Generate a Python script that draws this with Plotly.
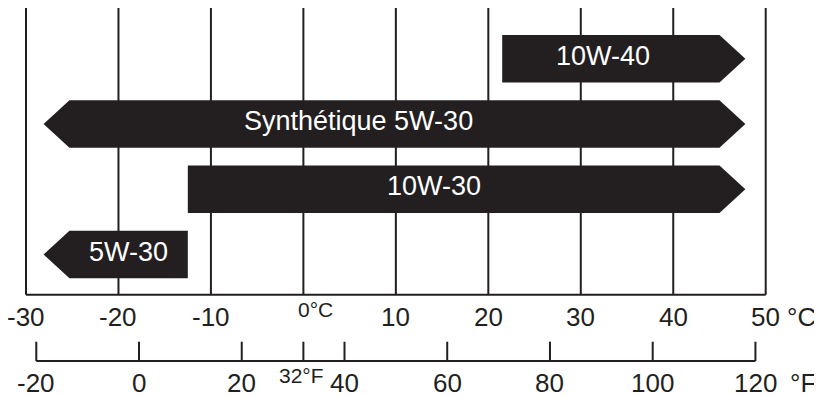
import plotly.graph_objects as go

# ---- data ----
GRADES = ["10W-40", "Synthétique 5W-30", "10W-30", "5W-30"]
LOW_C = [21.5, -25.3, -12.5, -25.3]
HIGH_C = [45.0, 45.0, 45.0, -12.5]
ARROW_LEFT = [False, True, False, True]
ARROW_RIGHT = [True, True, True, False]

C_TICKS = [-30, -20, -10, 0, 10, 20, 30, 40, 50]
C_LABELS = ["-30", "-20", "-10", "0°C", "10", "20", "30", "40", "50"]
F_TICKS = [-20, 0, 20, 32, 40, 60, 80, 100, 120]
F_LABELS = ["-20", "0", "20", "32°F", "40", "60", "80", "100", "120"]

# ---- style / layout constants ----
INK = "#231f20"
FONT = "Liberation Sans, Arial, Helvetica, sans-serif"
HEAD = 2.8          # arrow head length in °C units
HALF_H = 0.364      # half bar height in row units
LABEL_X = [32.4, 5.94, 14.15, -18.94]   # text centres inside the arrows
GRID_TOP = -0.807
C_AXIS_Y = 3.616
F_AXIS_Y = 4.632
F_TICK_TOP = 4.336
C_LABEL_Y = 3.950
F_LABEL_Y = 4.973
BIG = 26
SMALL = 21
INNER = 27


def f_to_c(f):
    return (f - 32) * 5.0 / 9.0


fig = go.Figure()

# arrows
for i, (name, lo, hi, al, ar) in enumerate(zip(GRADES, LOW_C, HIGH_C, ARROW_LEFT, ARROW_RIGHT)):
    xs = [lo, hi]
    ys = [i - HALF_H, i - HALF_H]
    if ar:
        xs.append(hi + HEAD)
        ys.append(i)
    xs += [hi, lo]
    ys += [i + HALF_H, i + HALF_H]
    if al:
        xs.append(lo - HEAD)
        ys.append(i)
    xs.append(lo)
    ys.append(i - HALF_H)
    fig.add_trace(go.Scatter(x=xs, y=ys, fill="toself", mode="lines",
                             fillcolor=INK, line=dict(width=0, color=INK),
                             hoverinfo="skip", showlegend=False))
    fig.add_annotation(x=LABEL_X[i], y=i, text=name, showarrow=False,
                       xanchor="center", yanchor="middle", yshift=3,
                       font=dict(family=FONT, size=INNER, color="white"))

# gridlines & celsius axis
for c in C_TICKS:
    fig.add_shape(type="line", x0=c, x1=c, y0=GRID_TOP, y1=C_AXIS_Y,
                  line=dict(color=INK, width=2), layer="below")
fig.add_shape(type="line", x0=C_TICKS[0], x1=C_TICKS[-1], y0=C_AXIS_Y, y1=C_AXIS_Y,
              line=dict(color=INK, width=2), layer="below")

for c, lab in zip(C_TICKS, C_LABELS):
    if lab == "0°C":
        fig.add_annotation(x=c, y=C_LABEL_Y, text=lab, showarrow=False,
                           xanchor="left", xshift=-7, yanchor="middle", yshift=7,
                           font=dict(family=FONT, size=SMALL, color=INK))
    else:
        fig.add_annotation(x=c, y=C_LABEL_Y, text=lab, showarrow=False,
                           xanchor="center", yanchor="middle",
                           font=dict(family=FONT, size=BIG, color=INK))
fig.add_annotation(x=C_TICKS[-1], y=C_LABEL_Y, text="°C", showarrow=False,
                   xanchor="left", xshift=19, yanchor="middle",
                   font=dict(family=FONT, size=BIG, color=INK))

# fahrenheit axis
fig.add_shape(type="line", x0=f_to_c(F_TICKS[0]), x1=f_to_c(F_TICKS[-1]),
              y0=F_AXIS_Y, y1=F_AXIS_Y, line=dict(color=INK, width=2))
for f, lab in zip(F_TICKS, F_LABELS):
    fig.add_shape(type="line", x0=f_to_c(f), x1=f_to_c(f), y0=F_TICK_TOP, y1=F_AXIS_Y,
                  line=dict(color=INK, width=2))
    if lab == "32°F":
        fig.add_annotation(x=f_to_c(f), y=F_LABEL_Y, text=lab, showarrow=False,
                           xanchor="center", xshift=-2, yanchor="middle", yshift=8,
                           font=dict(family=FONT, size=SMALL, color=INK))
    else:
        fig.add_annotation(x=f_to_c(f), y=F_LABEL_Y, text=lab, showarrow=False,
                           xanchor="center", yanchor="middle",
                           font=dict(family=FONT, size=BIG, color=INK))
fig.add_annotation(x=f_to_c(F_TICKS[-1]), y=F_LABEL_Y, text="°F", showarrow=False,
                   xanchor="left", xshift=33, yanchor="middle",
                   font=dict(family=FONT, size=BIG, color=INK))

# the page body has an 8px margin; the figure is sized/ranged so that
# marks land where they are in the 822x397 window
fig.update_layout(
    width=814, height=389,
    margin=dict(l=0, r=0, t=0, b=0),
    paper_bgcolor="white", plot_bgcolor="white",
    xaxis=dict(range=[-31.947, 56.088], visible=False, fixedrange=True),
    yaxis=dict(range=[5.183, -0.7768], visible=False, fixedrange=True),
    showlegend=False,
)

fig.write_html("out.html")
